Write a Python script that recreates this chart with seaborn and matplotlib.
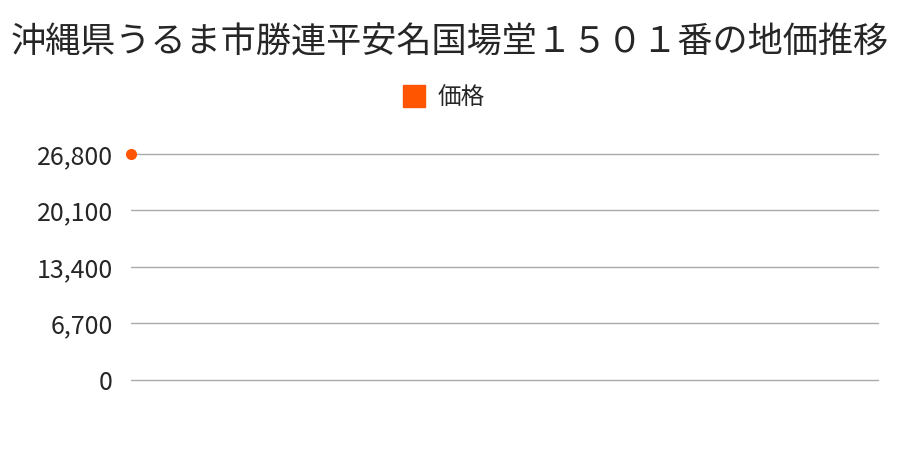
import pandas as pd
import seaborn as sns
import matplotlib.pyplot as plt
from matplotlib.lines import Line2D

# data
years = [0]
prices = [26800]
yticks = [0, 6700, 13400, 20100, 26800]
series_name = "価格"
title = "沖縄県うるま市勝連平安名国場堂１５０１番の地価推移"
color = "#ff5500"

df = pd.DataFrame({"year": years, "price": prices})

sns.set_theme(style="white")
plt.rcParams["font.family"] = ["Noto Sans CJK JP", "DejaVu Sans"]

fig = plt.figure(figsize=(9, 4.5), dpi=100)
ax = fig.add_axes([0.1456, 0.1556, 0.83, 0.5024])

sns.lineplot(data=df, x="year", y="price", marker="o", color=color,
             markersize=8, markeredgewidth=0, ax=ax, clip_on=False, zorder=3)

ax.set_ylim(0, 26800)
ax.set_xlim(0, 1)
ax.set_yticks(yticks)
ax.set_yticklabels([f"{v:,}" for v in yticks], fontsize=18)
ax.set_xticks([])
ax.set_xlabel("")
ax.set_ylabel("")
ax.tick_params(axis="y", length=0, pad=13)
for y in yticks:
    ax.axhline(y, color="#aaaaaa", lw=1, zorder=1, clip_on=False)
sns.despine(ax=ax, left=True, bottom=True, top=True, right=True)

fig.text(0.5, 0.905, title, ha="center", va="center", fontsize=25.3)

handle = Line2D([], [], marker="s", linestyle="", color=color, markersize=16)
fig.legend(handles=[handle], labels=[series_name], loc="center",
           bbox_to_anchor=(0.486, 0.782), frameon=False, fontsize=17,
           handletextpad=0.02)

fig.savefig("out.png", dpi=100)
